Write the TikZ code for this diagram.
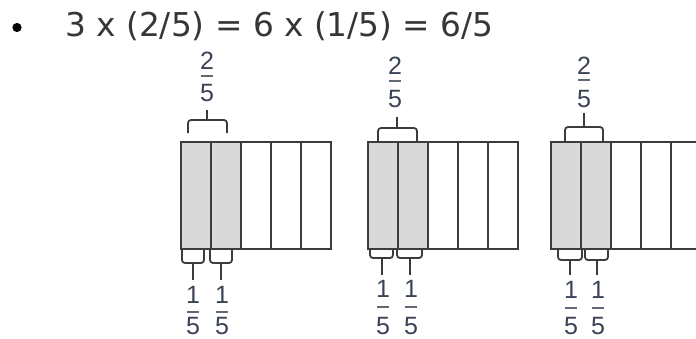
\documentclass[tikz,border=0pt]{standalone}
\usepackage{fontspec}
\newfontfamily\titlefont{DejaVu Sans}
\newfontfamily\labfont{Liberation Sans}
\definecolor{titlecol}{HTML}{363636}
\definecolor{labcol}{HTML}{3A4256}
\definecolor{linecol}{HTML}{3C3C3C}
\definecolor{cellgray}{HTML}{D9D9D9}
\tikzset{
  lab/.style={font=\labfont\fontsize{25}{25}\selectfont, text=labcol, inner sep=0pt, anchor=base},
  fbar/.style={draw=labcol!80, line width=2.2pt},
  cellline/.style={draw=linecol, line width=2pt},
  bracestyle/.style={draw=linecol, line width=1.8pt, rounded corners=3pt},
}
\begin{document}
\begin{tikzpicture}[x=1pt,y=-1pt]
\useasboundingbox (0,0) rectangle (696,338);
% title
\fill[black] (17,27.5) circle (4.6);
\node[font=\titlefont\fontsize{32.8}{33}\selectfont, text=titlecol, inner sep=0pt, anchor=base west] (title) at (65,36) {3 x (2/5) = 6 x (1/5) = 6/5};
% bars
\foreach \bx/\nm in {181/a,368/b,551/c}{
  \fill[cellgray] (\bx,142) rectangle (\bx+60,249);
  \draw[cellline] (\bx,142) rectangle (\bx+150,249);
  \foreach \k in {1,2,3,4}{
    \draw[cellline] (\bx+30*\k,142) -- (\bx+30*\k,249);
  }
}
% ---- bar 1 ----
\draw[bracestyle] (188,133) -- (188,120) -- (227,120) -- (227,133);
\draw[bracestyle] (207,120) -- (207,110);
\node[lab] (a2) at (207,69) {2};
\draw[fbar] (201,76) -- (213,76);
\node[lab] (a5) at (207,101) {5};
\draw[bracestyle] (182,250) -- (182,263) -- (204,263) -- (204,250);
\draw[bracestyle] (193,263) -- (193,280);
\draw[bracestyle] (210,250) -- (210,263) -- (232,263) -- (232,250);
\draw[bracestyle] (221,263) -- (221,280);
\node[lab] (a1l) at (193,303) {1};
\draw[fbar] (187,312) -- (199,312);
\node[lab] (a5l) at (193,334) {5};
\node[lab] (a1r) at (222,303) {1};
\draw[fbar] (216,312) -- (228,312);
\node[lab] (a5r) at (222,334) {5};
% ---- bar 2 ----
\draw[bracestyle] (378,142) -- (378,128) -- (417,128) -- (417,142);
\draw[bracestyle] (397,128) -- (397,117);
\node[lab] (b2) at (395,74) {2};
\draw[fbar] (389,81) -- (401,81);
\node[lab] (b5) at (395,107) {5};
\draw[bracestyle] (370,250) -- (370,258) -- (393,258) -- (393,250);
\draw[bracestyle] (382,258) -- (382,275);
\draw[bracestyle] (397,250) -- (397,258) -- (422,258) -- (422,250);
\draw[bracestyle] (410,258) -- (410,275);
\node[lab] (b1l) at (383,297) {1};
\draw[fbar] (377,307) -- (389,307);
\node[lab] (b5l) at (383,334) {5};
\node[lab] (b1r) at (411,297) {1};
\draw[fbar] (405,307) -- (417,307);
\node[lab] (b5r) at (411,334) {5};
% ---- bar 3 ----
\draw[bracestyle] (565,142) -- (565,127) -- (603,127) -- (603,142);
\draw[bracestyle] (584,127) -- (584,113);
\node[lab] (c2) at (584,74) {2};
\draw[fbar] (578,80) -- (590,80);
\node[lab] (c5) at (584,107) {5};
\draw[bracestyle] (558,250) -- (558,260) -- (582,260) -- (582,250);
\draw[bracestyle] (570,260) -- (570,275);
\draw[bracestyle] (585,250) -- (585,260) -- (608,260) -- (608,250);
\draw[bracestyle] (597,260) -- (597,275);
\node[lab] (c1l) at (571,298) {1};
\draw[fbar] (565,308) -- (577,308);
\node[lab] (c5l) at (571,334) {5};
\node[lab] (c1r) at (598,298) {1};
\draw[fbar] (592,308) -- (604,308);
\node[lab] (c5r) at (598,334) {5};
\end{tikzpicture}
\end{document}
